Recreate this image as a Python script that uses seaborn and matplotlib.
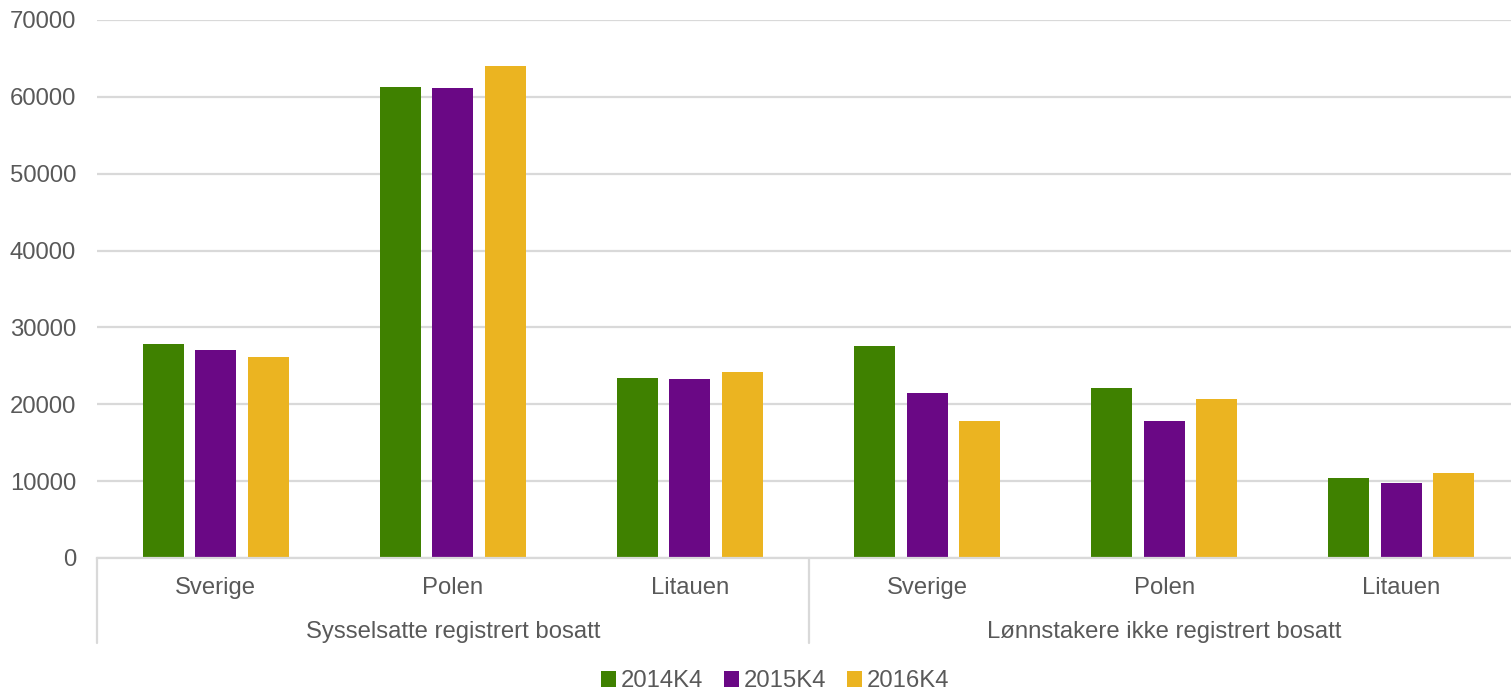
import numpy as np
import pandas as pd
import matplotlib
matplotlib.use("Agg")
import matplotlib.pyplot as plt
import seaborn as sns

# data
groups = ["Sysselsatte registrert bosatt", "Lønnstakere ikke registrert bosatt"]
countries = ["Sverige", "Polen", "Litauen"]
periods = ["2014K4", "2015K4", "2016K4"]
v2014 = [27800, 61300, 23400, 27550, 22100, 10400]
v2015 = [27000, 61150, 23300, 21500, 17800, 9750]
v2016 = [26150, 63950, 24200, 17800, 20700, 11000]
colors = ["#3F8100", "#6A0885", "#EBB421"]

sns.set_theme(style="white")
plt.rcParams["font.family"] = ["Liberation Sans", "DejaVu Sans"]
text_col = "#595959"
grid_col = "#D9D9D9"
fs = 17.2

keys = [f"{g}|{c}" for g in groups for c in countries]
rows = []
for p, vals in zip(periods, [v2014, v2015, v2016]):
    for k, v in zip(keys, vals):
        rows.append({"key": k, "period": p, "value": v})
df = pd.DataFrame(rows)

fig = plt.figure(figsize=(15.11, 6.89), dpi=100)
ax = fig.add_axes([97 / 1511, 131 / 689, 1423 / 1511, 538 / 689])

sns.barplot(data=df, x="key", y="value", hue="period", order=keys,
            hue_order=periods, palette=colors, width=0.664, gap=0.22,
            linewidth=0, saturation=1, ax=ax)

handles, labels = ax.get_legend_handles_labels()
ax.get_legend().remove()

ax.set_xlim(-0.5, 5.5)
ax.set_ylim(0, 70000)
ax.set_yticks(np.arange(0, 70001, 10000))
ax.yaxis.grid(True, color=grid_col, linewidth=1.6)
ax.set_axisbelow(True)
for s in ["top", "right", "left"]:
    ax.spines[s].set_visible(False)
ax.spines["bottom"].set_color(grid_col)
ax.spines["bottom"].set_linewidth(1.6)
ax.set_xlabel("")
ax.set_ylabel("")
ax.set_xticks(range(len(keys)))
ax.set_xticklabels(countries * len(groups))
ax.tick_params(axis="both", length=0, labelsize=fs, labelcolor=text_col)
ax.tick_params(axis="x", pad=14)
ax.tick_params(axis="y", pad=15)

# category group separators and labels
trans = ax.get_xaxis_transform()
for xv in [-0.5, 2.5, 5.5]:
    ax.plot([xv, xv], [0, -0.158], transform=trans, color=grid_col,
            linewidth=1.6, clip_on=False)
for i, g in enumerate(groups):
    ax.text(1 + 3 * i, -0.138, g, transform=trans, ha="center", va="center",
            fontsize=fs, color=text_col)

fig.legend(handles, labels, loc="center", bbox_to_anchor=(0.513, 1 - 681 / 689),
           ncol=3, frameon=False, fontsize=fs, handlelength=0.65,
           handleheight=0.65, handletextpad=0.2, columnspacing=0.85,
           labelcolor=text_col)

fig.savefig("out.png", dpi=100)
